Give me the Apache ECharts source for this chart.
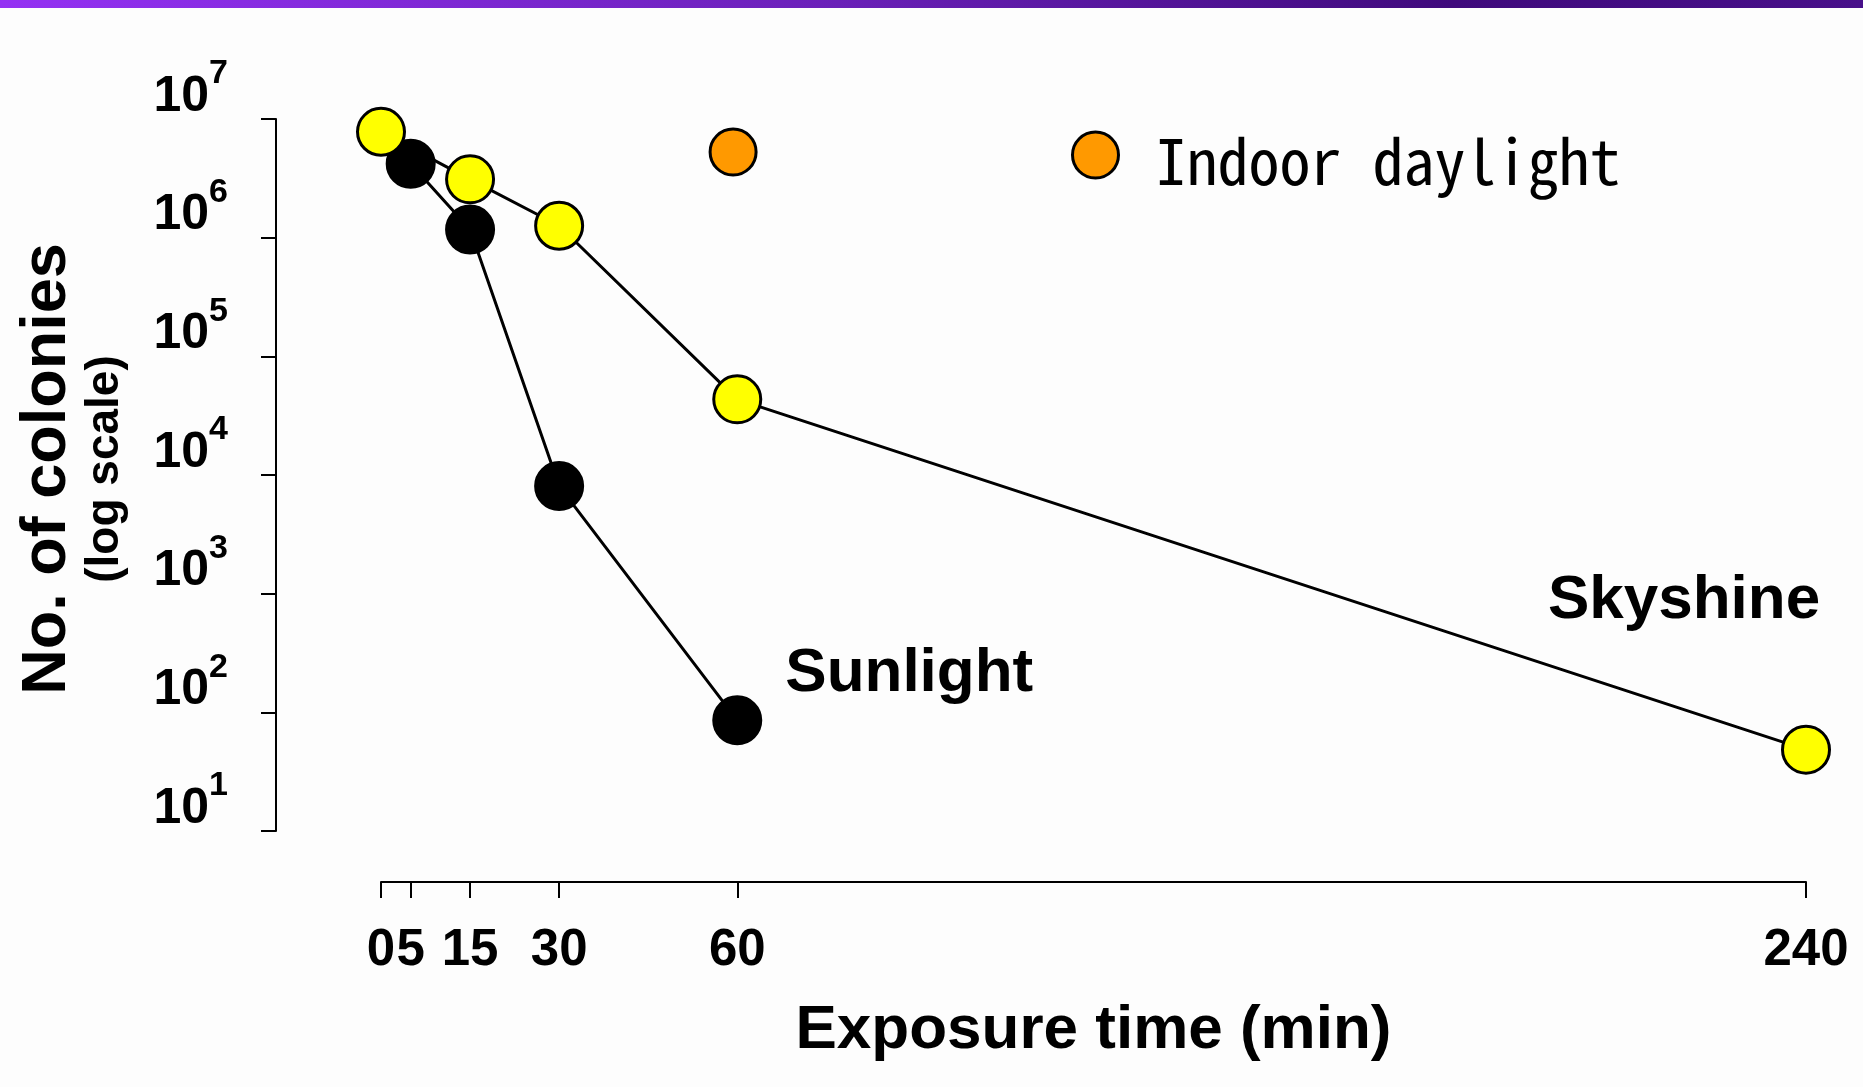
<!DOCTYPE html>
<html>
<head>
<meta charset="utf-8">
<script src="https://cdn.jsdelivr.net/npm/echarts@6/dist/echarts.min.js"></script>
<style>
html,body{margin:0;padding:0;background:#fdfdfd;}
#chart{width:1863px;height:1087px;}
</style>
</head>
<body>
<div id="chart"></div>
<script>
// ---- data ----
const xTickValues = [0, 5, 15, 30, 60, 240];
const yTickValues = [1e1, 1e2, 1e3, 1e4, 1e5, 1e6, 1e7];

const sunlightTimes = [5, 15, 30, 60];
const sunlightColonies = [4.2e6, 1.17e6, 8.06e3, 85.6];

const skyshineTimes = [0, 15, 30, 60, 240];
const skyshineColonies = [7.8e6, 3.1e6, 1.26e6, 4.34e4, 48.5];

const indoorTimes = [59.3];
const indoorColonies = [5.27e6];

const seriesNames = ['Sunlight', 'Skyshine', 'Indoor daylight'];
const xAxisTitle = 'Exposure time (min)';
const yAxisTitle = 'No. of colonies';
const yAxisSubtitle = '(log scale)';

// ---- styling ----
const SANS = '"Liberation Sans", Arial, sans-serif';
const LEGEND_FONT = '"Noto Sans Mono CJK SC", "Liberation Mono", monospace';

function pairs(xs, ys) { return xs.map((x, i) => [x, ys[i]]); }

function withEndLabel(points, labelOpt) {
  return points.map((p, i) => i === points.length - 1 ? { value: p, label: labelOpt } : { value: p });
}

const chart = echarts.init(document.getElementById('chart'), null, { renderer: 'canvas' });

const option = {
  backgroundColor: '#fdfdfd',
  animation: false,
  graphic: [{
    type: 'rect',
    left: 0, top: 0,
    shape: { width: 1863, height: 8 },
    style: {
      fill: new echarts.graphic.LinearGradient(0, 0, 1, 0, [
        { offset: 0, color: '#9431f3' },
        { offset: 0.45, color: '#6a20b8' },
        { offset: 0.78, color: '#3f0a7c' },
        { offset: 1, color: '#48108a' }
      ])
    },
    silent: true
  }],
  legend: {
    data: [seriesNames[2]],
    left: 1066, top: 119,
    itemWidth: 46, itemHeight: 46,
    icon: 'circle',
    selectedMode: false,
    itemStyle: { borderColor: '#000', borderWidth: 3 },
    formatter: function (name) { return '{t|' + name + '}{h|}'; },
    textStyle: {
      fontFamily: LEGEND_FONT, fontSize: 62, color: '#000', padding: [0, 0, 0, 32],
      rich: {
        t: { fontFamily: LEGEND_FONT, fontSize: 62, color: '#000', height: 62, verticalAlign: 'bottom' },
        h: { height: 75, width: 1 }
      }
    }
  },
  grid: { left: 381, right: 57, top: 119, bottom: 256, containLabel: false },
  xAxis: {
    type: 'value',
    min: 0, max: 240,
    offset: 51,
    splitLine: { show: false },
    axisLine: { show: true, onZero: false, lineStyle: { color: '#000', width: 2 } },
    axisTick: { show: true, length: 16, lineStyle: { color: '#000', width: 2 }, customValues: xTickValues },
    axisLabel: {
      customValues: xTickValues,
      margin: 43,
      fontFamily: SANS, fontWeight: 'bold', fontSize: 51, color: '#000'
    },
    name: xAxisTitle,
    nameLocation: 'middle',
    nameGap: 118,
    nameTextStyle: { fontFamily: SANS, fontWeight: 'bold', fontSize: 62, color: '#000' }
  },
  yAxis: {
    type: 'log',
    logBase: 10,
    min: 10, max: 1e7,
    offset: 105,
    splitLine: { show: false },
    axisLine: { show: true, onZero: false, lineStyle: { color: '#000', width: 2 } },
    axisTick: { show: true, length: 15, lineStyle: { color: '#000', width: 2 }, customValues: yTickValues },
    axisLabel: {
      customValues: yTickValues,
      margin: 48,
      verticalAlign: 'bottom',
      formatter: function (v) {
        const e = Math.round(Math.log10(v));
        return '{b|10}{s|' + e + '}';
      },
      rich: {
        b: { fontFamily: SANS, fontWeight: 'bold', fontSize: 50, color: '#000', verticalAlign: 'bottom', height: 44, lineHeight: 44 },
        s: { fontFamily: SANS, fontWeight: 'bold', fontSize: 34, color: '#000', verticalAlign: 'top', height: 34, padding: [0, 0, 28, 0] }
      }
    },
    name: '{a|' + yAxisTitle + '}\n{b|' + yAxisSubtitle + '}',
    nameLocation: 'middle',
    nameRotate: 90,
    nameGap: 147,
    nameTextStyle: {
      padding: [0, 0, 0, 12],
      rich: {
        a: { fontFamily: SANS, fontWeight: 'bold', fontSize: 63, lineHeight: 69, color: '#000' },
        b: { fontFamily: SANS, fontWeight: 'bold', fontSize: 46, lineHeight: 47, color: '#000' }
      }
    }
  },
  series: [
    {
      name: seriesNames[0],
      type: 'line',
      data: withEndLabel(pairs(sunlightTimes, sunlightColonies), {
        show: true, formatter: seriesNames[0], position: 'inside', offset: [172, -46],
        fontFamily: SANS, fontWeight: 'bold', fontSize: 62, color: '#000'
      }),
      symbol: 'circle',
      symbolSize: 47,
      lineStyle: { color: '#000', width: 3 },
      itemStyle: { color: '#000', borderColor: '#000', borderWidth: 3 },
      z: 2
    },
    {
      name: seriesNames[1],
      type: 'line',
      data: withEndLabel(pairs(skyshineTimes, skyshineColonies), {
        show: true, formatter: seriesNames[1], position: 'inside', offset: [-122, -149],
        fontFamily: SANS, fontWeight: 'bold', fontSize: 62, color: '#000'
      }),
      symbol: 'circle',
      symbolSize: 47,
      lineStyle: { color: '#000', width: 3 },
      itemStyle: { color: '#ffff00', borderColor: '#000', borderWidth: 3 },
      z: 3
    },
    {
      name: seriesNames[2],
      type: 'scatter',
      data: pairs(indoorTimes, indoorColonies),
      symbol: 'circle',
      symbolSize: 46,
      itemStyle: { color: '#ff9900', borderColor: '#000', borderWidth: 3, opacity: 1 },
      z: 4
    }
  ]
};

chart.setOption(option);
</script>
</body>
</html>
